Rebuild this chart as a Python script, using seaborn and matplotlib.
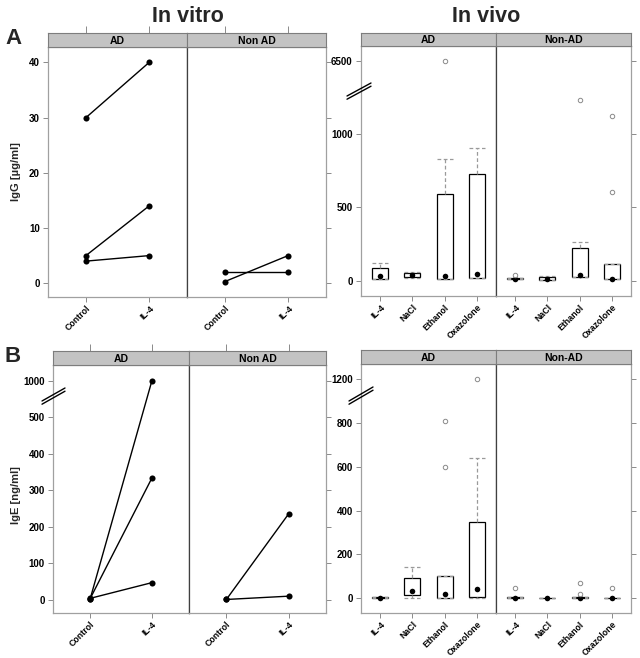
import numpy as np
import pandas as pd
import matplotlib
matplotlib.use("Agg")
import matplotlib.pyplot as plt
from matplotlib.lines import Line2D
import seaborn as sns

sns.set_theme(style="white")
plt.rcParams["font.family"] = ["Liberation Sans", "DejaVu Sans"]
plt.rcParams["font.weight"] = "bold"
plt.rcParams["axes.labelweight"] = "bold"

# ---------------- data ----------------
vitro_conditions = ["Control", "IL-4"]
vivo_treatments = ["IL-4", "NaCl", "Ethanol", "Oxazolone"]
vitro_groups = ["AD", "Non AD"]
vivo_groups = ["AD", "Non-AD"]

igg_vitro_ad_control = [30, 5, 4]
igg_vitro_ad_il4 = [40, 14, 5]
igg_vitro_nonad_control = [2, 0.3]
igg_vitro_nonad_il4 = [2, 5]

ige_vitro_ad_control = [2, 3, 4]
ige_vitro_ad_il4 = [1000, 333, 47]
ige_vitro_nonad_control = [1, 1]
ige_vitro_nonad_il4 = [235, 10]

# five-number summaries per treatment: lower whisker, Q1, median, Q3, upper whisker
igg_vivo_ad = [[10, 12, 32, 85, 119], [16, 23, 37, 50, 61],
               [12, 12, 34, 591, 830], [16, 16, 46, 726, 903]]
igg_vivo_nonad = [[10, 10, 10, 20, 20], [2, 2, 14, 27, 34],
                  [27, 27, 41, 225, 266], [12, 12, 14, 112, 112]]
igg_vivo_ad_outliers = [[], [], [6500], []]
igg_vivo_nonad_outliers = [[39], [], [1232], [1123, 605]]

ige_vivo_ad = [[0, 0, 0, 3, 3], [0, 12, 32, 90, 142],
               [0, 2, 20, 99, 99], [0, 7, 42, 350, 642]]
ige_vivo_nonad = [[0, 0, 1, 3, 3], [0, 0, 0, 2, 2],
                  [0, 0, 1, 4, 4], [0, 0, 0, 2, 2]]
ige_vivo_ad_outliers = [[], [], [811, 601], [1200]]
ige_vivo_nonad_outliers = [[44], [], [68, 20], [44]]

igg_vitro_ticks = [0, 10, 20, 30, 40]
ige_vitro_ticks = [0, 100, 200, 300, 400, 500, 1000]
igg_vivo_ticks = [0, 500, 1000, 6500]
ige_vivo_ticks = [0, 200, 400, 600, 800, 1200]

# ---------------- helpers ----------------
W, H = 640, 658
fig = plt.figure(figsize=(W / 100, H / 100), dpi=100)


def px_rect(x0, y0, x1, y1):
    return [x0 / W, 1 - y1 / H, (x1 - x0) / W, (y1 - y0) / H]


def broken_scale(b, k):
    def fwd(v):
        v = np.asarray(v, dtype=float)
        return np.where(v <= b, v, b + (v - b) * k)

    def inv(t):
        t = np.asarray(t, dtype=float)
        return np.where(t <= b, t, b + (t - b) / k)
    return fwd, inv


FRAME = "#a0a0a0"
DIVIDER = "#404040"
TICKC = "#8a8a8a"


def style_panel(ax, side, ticks, ncat, cats):
    for s in ax.spines.values():
        s.set_color(FRAME)
        s.set_linewidth(0.9)
    if side == "left":
        ax.spines["right"].set_color(DIVIDER)
    else:
        ax.spines["left"].set_color(DIVIDER)
    ax.set_xlabel("")
    ax.set_ylabel("")
    ax.set_xlim(-0.6, ncat - 0.4)
    ax.set_xticks(range(ncat))
    ax.set_xticklabels(cats, rotation=45, ha="right", rotation_mode="anchor",
                       fontsize=6.3, fontweight="bold")
    ax.set_yticks(ticks)
    ax.set_yticklabels([str(t) for t in ticks], fontsize=7, fontweight="bold")
    ax.tick_params(axis="both", colors=TICKC, labelcolor="black",
                   length=3.5, width=0.7, pad=2.5)
    ax.tick_params(axis="x", pad=1.5)
    if side == "left":
        ax.tick_params(axis="y", left=True, right=False, labelleft=True)
    else:
        ax.tick_params(axis="y", left=False, right=True, labelleft=False,
                       labelright=False)
    ax.tick_params(axis="x", bottom=True, top=False)
    ax.grid(False)


def add_header(rect, text, panel, top_ticks, ncat):
    h = fig.add_axes(px_rect(*rect))
    h.set_facecolor("#c3c3c3")
    h.set_xlim(panel.get_xlim())
    h.set_ylim(0, 1)
    h.set_yticks([])
    if top_ticks:
        h.set_xticks(range(ncat))
        h.tick_params(axis="x", top=True, bottom=False, labeltop=False,
                      labelbottom=False, length=5, width=0.7, colors=TICKC)
    else:
        h.set_xticks([])
    for s in h.spines.values():
        s.set_color("#7d7d7d")
        s.set_linewidth(0.8)
    h.text(0.5, 0.45, text, ha="center", va="center", transform=h.transAxes,
           fontsize=7.5, fontweight="bold", color="black")
    return h


def vitro_frame(ctrl, il4):
    rows = []
    for i, (c, t) in enumerate(zip(ctrl, il4)):
        rows.append(dict(subject=i, condition=vitro_conditions[0], value=c))
        rows.append(dict(subject=i, condition=vitro_conditions[1], value=t))
    return pd.DataFrame(rows)


def vivo_frame(summaries):
    return pd.DataFrame([dict(treatment=t, value=v)
                         for t, s in zip(vivo_treatments, summaries) for v in s])


def outlier_frame(outs):
    return pd.DataFrame([dict(treatment=t, value=v)
                         for t, o in zip(vivo_treatments, outs) for v in o],
                        columns=["treatment", "value"])


def draw_vitro(ax, ctrl, il4):
    df = vitro_frame(ctrl, il4)
    sns.lineplot(data=df, x="condition", y="value", units="subject",
                 estimator=None, sort=False, color="black", lw=1.0,
                 marker="o", markersize=4.4, markeredgewidth=0, ax=ax)


def draw_vivo(ax, summaries, outs):
    df = vivo_frame(summaries)
    sns.boxplot(data=df, x="treatment", y="value", order=vivo_treatments,
                width=0.5, color="white", linecolor="black", linewidth=0.9,
                showfliers=False, whis=1.5, capwidths=0.5,
                whiskerprops=dict(color="#9a9a9a", linestyle=(0, (3, 2)), linewidth=0.9),
                capprops=dict(color="#9a9a9a", linestyle=(0, (3, 2)), linewidth=0.9),
                medianprops=dict(visible=False), ax=ax)
    med = pd.DataFrame(dict(treatment=vivo_treatments,
                            value=[s[2] for s in summaries]))
    sns.stripplot(data=med, x="treatment", y="value", order=vivo_treatments,
                  jitter=False, color="black", size=4, linewidth=0, ax=ax,
                  zorder=5)
    of = outlier_frame(outs)
    if len(of):
        sns.stripplot(data=of, x="treatment", y="value", order=vivo_treatments,
                      jitter=False, color="white", edgecolor="#8a8a8a",
                      linewidth=0.7, size=3.2, ax=ax, zorder=5)


def slash(x0, y0, x1, y1):
    for d in (0, 3.2):
        fig.add_artist(Line2D([x0 / W, x1 / W], [1 - (y0 + d) / H, 1 - (y1 + d) / H],
                              color="black", lw=1.0, transform=fig.transFigure))


# ---------------- row A ----------------
tl_ad = fig.add_axes(px_rect(48, 47, 187, 297))
tl_nad = fig.add_axes(px_rect(187, 47, 326, 297), sharey=tl_ad)
draw_vitro(tl_ad, igg_vitro_ad_control, igg_vitro_ad_il4)
draw_vitro(tl_nad, igg_vitro_nonad_control, igg_vitro_nonad_il4)
for ax, side in ((tl_ad, "left"), (tl_nad, "right")):
    ax.set_ylim(-2.5, 42.8)
    style_panel(ax, side, igg_vitro_ticks, 2, vitro_conditions)
add_header((48, 33, 187, 47), vitro_groups[0], tl_ad, True, 2)
add_header((187, 33, 326, 47), vitro_groups[1], tl_nad, True, 2)

fwd_g, inv_g = broken_scale(1350, 149 / 5150)
tr_ad = fig.add_axes(px_rect(361, 46, 496, 296))
tr_nad = fig.add_axes(px_rect(496, 46, 631, 296))
draw_vivo(tr_ad, igg_vivo_ad, igg_vivo_ad_outliers)
draw_vivo(tr_nad, igg_vivo_nonad, igg_vivo_nonad_outliers)
for ax, side in ((tr_ad, "left"), (tr_nad, "right")):
    ax.set_yscale("function", functions=(fwd_g, inv_g))
    ax.set_ylim(-104, float(inv_g(1601)))
    style_panel(ax, side, igg_vivo_ticks, 4, vivo_treatments)
add_header((361, 33, 496, 46), vivo_groups[0], tr_ad, False, 4)
add_header((496, 33, 631, 46), vivo_groups[1], tr_nad, False, 4)
slash(347, 96, 371, 83)

# ---------------- row B ----------------
fwd_e, inv_e = broken_scale(550, 49 / 450)
bl_ad = fig.add_axes(px_rect(53, 365, 189, 613))
bl_nad = fig.add_axes(px_rect(189, 365, 326, 613))
draw_vitro(bl_ad, ige_vitro_ad_control, ige_vitro_ad_il4)
draw_vitro(bl_nad, ige_vitro_nonad_control, ige_vitro_nonad_il4)
for ax, side in ((bl_ad, "left"), (bl_nad, "right")):
    ax.set_yscale("function", functions=(fwd_e, inv_e))
    ax.set_ylim(-36, float(inv_e(642)))
    style_panel(ax, side, ige_vitro_ticks, 2, vitro_conditions)
add_header((53, 351, 189, 365), vitro_groups[0], bl_ad, True, 2)
add_header((189, 351, 326, 365), vitro_groups[1], bl_nad, True, 2)
slash(42, 401, 65, 388)

fwd_v, inv_v = broken_scale(900, 101 / 300)
br_ad = fig.add_axes(px_rect(361, 364, 496, 613))
br_nad = fig.add_axes(px_rect(496, 364, 631, 613))
draw_vivo(br_ad, ige_vivo_ad, ige_vivo_ad_outliers)
draw_vivo(br_nad, ige_vivo_nonad, ige_vivo_nonad_outliers)
for ax, side in ((br_ad, "left"), (br_nad, "right")):
    ax.set_yscale("function", functions=(fwd_v, inv_v))
    ax.set_ylim(-68, float(inv_v(1070)))
    style_panel(ax, side, ige_vivo_ticks, 4, vivo_treatments)
add_header((361, 350, 496, 364), vivo_groups[0], br_ad, False, 4)
add_header((496, 350, 631, 364), vivo_groups[1], br_nad, False, 4)
slash(349, 401, 373, 387)

# ---------------- titles / labels ----------------
fig.text(188 / W, 1 - 22 / H, "In vitro", ha="center", va="baseline",
         fontsize=15.5, fontweight="bold")
fig.text(486 / W, 1 - 22 / H, "In vivo", ha="center", va="baseline",
         fontsize=15.5, fontweight="bold")
fig.text(5 / W, 1 - 44 / H, "A", ha="left", va="baseline", fontsize=16,
         fontweight="bold")
fig.text(5 / W, 1 - 362 / H, "B", ha="left", va="baseline", fontsize=16,
         fontweight="bold")
fig.text(16 / W, 1 - 172 / H, "IgG [µg/ml]", rotation=90, ha="center",
         va="center", fontsize=8, fontweight="bold")
fig.text(16 / W, 1 - 495 / H, "IgE [ng/ml]", rotation=90, ha="center",
         va="center", fontsize=8, fontweight="bold")

fig.savefig("out.png", dpi=100, facecolor="white")
